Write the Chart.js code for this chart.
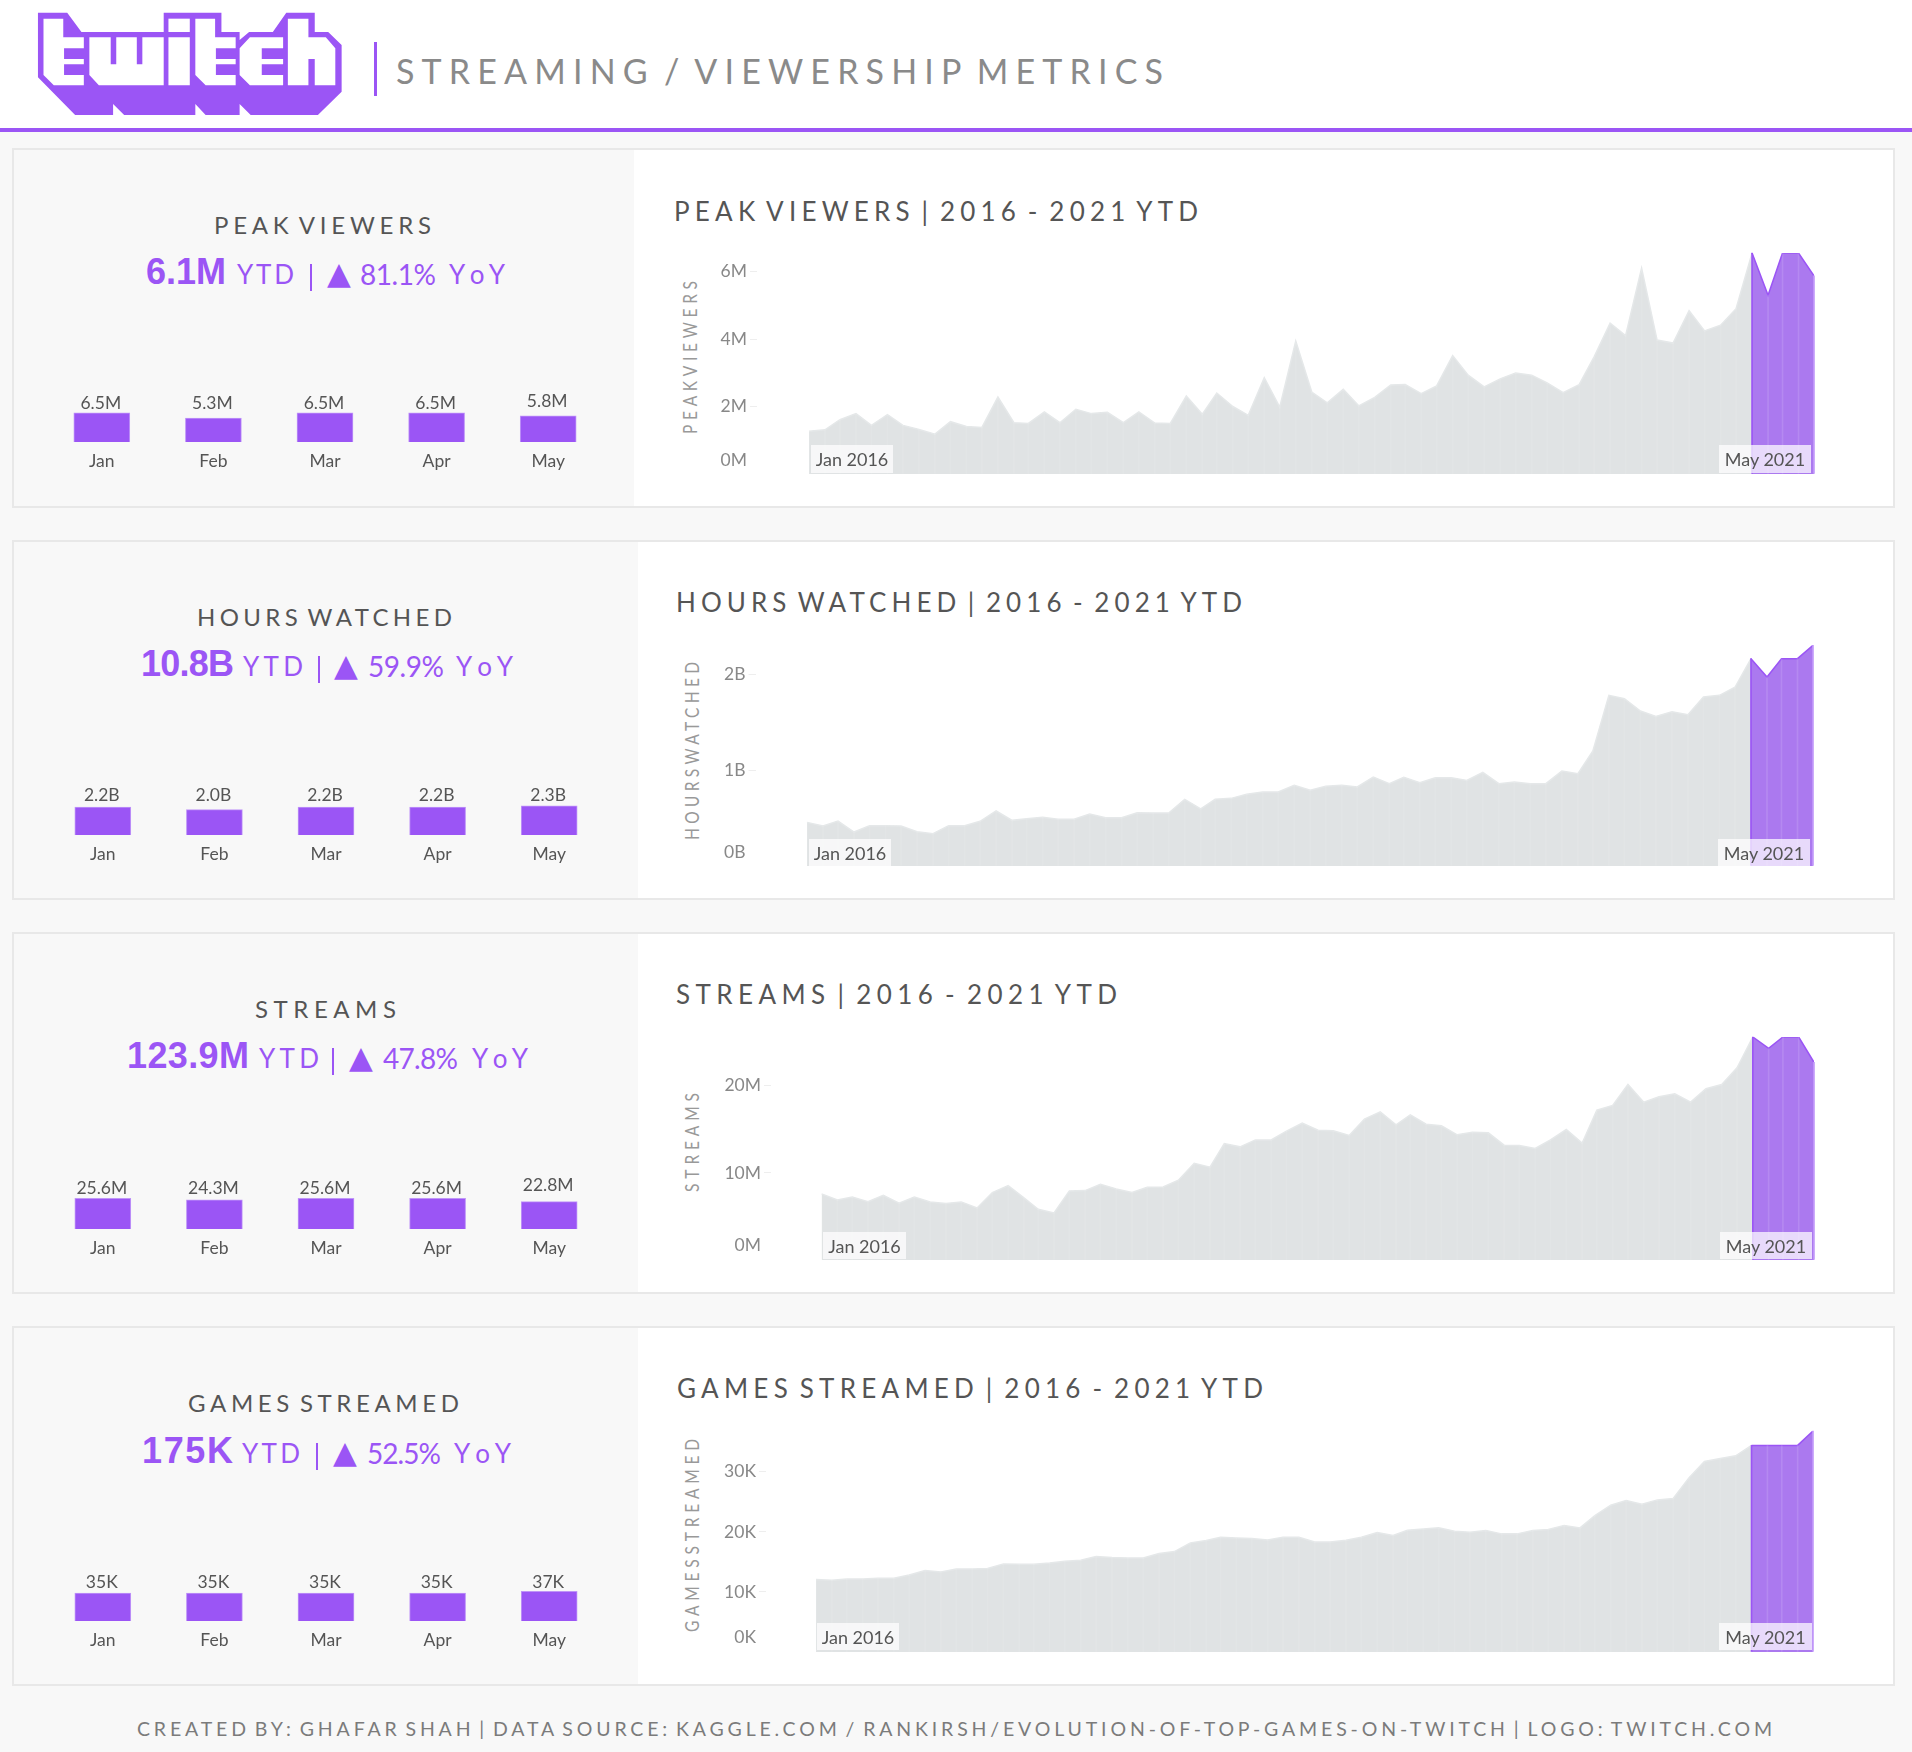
<!DOCTYPE html>
<html><head><meta charset="utf-8">
<script src="https://cdn.jsdelivr.net/npm/chart.js@4"></script>
<style>
html,body{margin:0;padding:0;background:#f8f8f8;}
#page{position:relative;width:1912px;height:1752px;overflow:hidden;background:#f8f8f8;font-family:Lato,sans-serif;}
.abs{position:absolute;}
.t{position:absolute;white-space:pre;line-height:1;}
canvas{position:absolute;display:block;}
</style></head><body><div id="page"></div>
<script>
// ---------- categories ----------
const timeline = ['2016-01','2016-02','2016-03','2016-04','2016-05','2016-06','2016-07','2016-08','2016-09','2016-10','2016-11','2016-12',
'2017-01','2017-02','2017-03','2017-04','2017-05','2017-06','2017-07','2017-08','2017-09','2017-10','2017-11','2017-12',
'2018-01','2018-02','2018-03','2018-04','2018-05','2018-06','2018-07','2018-08','2018-09','2018-10','2018-11','2018-12',
'2019-01','2019-02','2019-03','2019-04','2019-05','2019-06','2019-07','2019-08','2019-09','2019-10','2019-11','2019-12',
'2020-01','2020-02','2020-03','2020-04','2020-05','2020-06','2020-07','2020-08','2020-09','2020-10','2020-11','2020-12',
'2021-01','2021-02','2021-03','2021-04','2021-05'];
const ytdMonths = ['Jan','Feb','Mar','Apr','May'];
// ---------- monthly series ----------
const peakViewers = [1.27,1.31,1.61,1.79,1.44,1.76,1.44,1.32,1.18,1.55,1.41,1.38,2.28,1.52,1.50,1.84,1.52,1.92,1.79,1.83,1.52,1.84,1.51,1.50,2.31,1.77,2.40,2.00,1.74,2.85,1.98,3.94,2.43,2.11,2.51,2.02,2.27,2.64,2.65,2.38,2.61,3.51,2.93,2.58,2.82,2.99,2.93,2.70,2.41,2.65,3.47,4.47,4.10,6.10,3.97,3.88,4.84,4.24,4.41,4.90,6.55,5.30,6.55,6.55,5.87];
const hoursWatched = [.456,.418,.470,.355,.422,.422,.418,.359,.338,.422,.422,.467,.575,.477,.495,.509,.488,.488,.544,.505,.505,.557,.554,.554,.697,.596,.697,.707,.749,.773,.773,.843,.791,.833,.843,.826,.930,.861,.927,.871,.923,.923,.895,.979,.861,.878,.861,.861,.993,.965,1.202,1.784,1.749,1.620,1.564,1.613,1.582,1.767,1.784,1.868,2.167,1.976,2.167,2.167,2.307];
const streams = [7.59,6.90,7.24,6.70,7.43,6.51,7.24,6.67,6.48,6.67,5.98,7.74,8.54,7.13,5.82,5.40,7.93,7.97,8.70,8.16,7.74,8.35,8.39,9.16,11.11,10.65,13.37,12.99,13.79,13.79,14.79,15.71,14.90,14.83,14.29,16.17,17.01,15.52,16.67,15.59,15.40,14.37,14.67,14.60,13.18,13.14,12.80,13.79,14.98,13.41,17.20,17.74,20.15,18.12,18.74,19.08,18.12,19.66,20.15,22.07,25.6,24.3,25.6,25.6,22.7];
const gamesStreamed = [12.06,11.94,12.17,12.17,12.28,12.28,12.83,13.56,13.33,13.83,13.83,13.89,14.67,14.61,14.61,14.83,15.11,15.28,15.89,15.72,15.67,15.67,16.39,16.72,18.17,18.56,19.11,19.0,18.89,18.67,19.11,19.11,18.33,18.33,18.61,19.11,19.89,19.39,20.28,20.5,20.67,20.11,19.94,20.22,19.67,19.67,20.22,20.39,21.06,20.67,22.72,24.44,25.22,24.61,25.33,25.56,29.0,31.72,32.22,32.67,34.4,34.4,34.4,34.4,36.8];
// ---------- 2021 month bars ----------
const peakYtd = [6.5,5.3,6.5,6.5,5.8];
const hoursYtd = [2.2,2.0,2.2,2.2,2.3];
const streamsYtd = [25.6,24.3,25.6,25.6,22.8];
const gamesYtd = [35,35,35,35,37];
// ---------- axis ticks ----------
const peakTicks = [0,2,4,6];
const hoursTicks = [0,1,2];
const streamsTicks = [0,10,20];
const gamesTicks = [0,10,20,30];
// ---------- text ----------
const headerTitle = 'STREAMING / VIEWERSHIP METRICS';
const footerText = 'CREATED BY: GHAFAR SHAH | DATA SOURCE: KAGGLE.COM / RANKIRSH/EVOLUTION-OF-TOP-GAMES-ON-TWITCH | LOGO: TWITCH.COM';

const PURPLE='#9b55f5', AREA_PURPLE='#ab79ef', GRAY='#e0e3e4', GRAY_LINE='#e5e8e9';
const page=document.getElementById('page');
Chart.defaults.font.family='Lato';

function box(x0,y0,x1,y1,css){const d=document.createElement('div');d.className='abs';d.style.cssText+=`left:${x0}px;top:${y0}px;width:${x1-x0}px;height:${y1-y0}px;${css||''}`;page.appendChild(d);return d;}
// text spread by letter spacing so it runs from x0 to x1, caps centred on cy
function text(s,x0,x1,cy,size,color,css){
  const e=document.createElement('div');e.className='t';e.textContent=s;
  e.style.cssText+=`left:${x0}px;top:${cy}px;font-size:${size}px;color:${color};transform:translateY(-52%);${css||''}`;
  page.appendChild(e);
  const w=e.getBoundingClientRect().width;
  e.style.letterSpacing=((x1-x0-w)/(Math.max(s.length-1,1)))+'px';
  return e;
}
function vtext(s,cx,y0,y1,size,color,stretch){
  const e=document.createElement('div');e.className='t';e.textContent=s;
  e.style.cssText+=`left:${cx}px;top:${y1}px;font-size:${size}px;color:${color};`;
  page.appendChild(e);
  const w=e.getBoundingClientRect().width;
  e.style.letterSpacing=((y1-y0-w)/(s.length-1))+'px';
  e.style.transformOrigin='0 0';e.style.transform=`rotate(-90deg) scaleY(${stretch}) translateY(-50%)`;
  return e;
}
const TIGHT='word-spacing:-.2em;';

// ---------- header ----------
box(0,0,1912,128,'background:#fff');
box(0,128,1912,132,`background:${PURPLE}`);
box(374,42,377,96,`background:${PURPLE}`);
const logo=document.createElementNS('http://www.w3.org/2000/svg','svg');
logo.setAttribute('viewBox','0 0 1568 420');logo.setAttribute('preserveAspectRatio','none');
logo.style.cssText='position:absolute;left:0;top:0;width:1240px;height:140px';
const poly=(pts,fill)=>`<polygon fill="${fill}" points="${pts}"/>`;
logo.innerHTML=
 poly('48,38 85,38 103,96 207,96 207,38 280,38 280,96 303,96 303,120 315,96 345,96 362,38 398,38 398,96 415,96 432,135 432,275 402,345 317,345 303,312 303,345 260,345 247,312 247,345 157,345 143,312 143,345 95,345 48,232',PURPLE)+
 poly('55,56 80,56 80,112 106,112 106,145 81,145 81,177 106,177 106,193 81,193 81,225 106,225 106,256 68,256 55,225','#fff')+
 poly('113,112 140,112 140,193 147,193 147,112 173,112 173,193 180,193 180,112 207,112 207,256 125,256 113,225','#fff')+
 poly('213,56 240,56 240,96 213,96','#fff')+poly('213,112 240,112 240,256 213,256','#fff')+
 poly('247,56 272,56 272,112 298,112 298,145 273,145 273,177 298,177 298,193 273,193 273,225 298,225 298,256 260,256 247,225','#fff')+
 poly('316,112 358,112 358,145 331,145 331,177 358,177 358,193 331,193 331,225 358,225 358,256 316,256 303,225 303,145','#fff')+
 poly('364,56 390,56 390,112 412,112 424,145 424,256 398,256 398,177 390,177 390,256 364,256','#fff');
page.appendChild(logo);
text(headerTitle,396,1163,71.5,34,'#8a8a8a',TIGHT);
text(footerText,137,1772,1729,19.5,'#7b7b7b',TIGHT);

// ---------- panels ----------
const panels=[
 {name:'PEAK VIEWERS',axisName:'PEAKVIEWERS',series:peakViewers,ytd:peakYtd,ticks:peakTicks,unit:'M',digits:1,yMax:6.55,
  rect:[148,508,634],titleX:[214,431],titleY:225,kpiY:274.5,
  kpi:{v:'6.1M',vx:[146,226],ytd:[237,294],bar:310,tri:[327,349],pct:'81.1%',px:[360,436],yoy:[449,505]},
  chartTitleX:[674,1198],chartTitleY:211.5,axisX:690,axisY:[281,434],
  plot:{top:253,bottom:474,start:809,right:1814,tick:757,lift:14},
  jan:[811,893],may:[1719,1811],boxY:[445,473],
  bars:{left:45.5,width:558,base:442,px:4.5,labelDrop:40,mayLift:2.5}},
 {name:'HOURS WATCHED',axisName:'HOURSWATCHED',series:hoursWatched,ytd:hoursYtd,ticks:hoursTicks,unit:'B',digits:1,yMax:2.31,
  rect:[540,900,638],titleX:[197,452],titleY:617,kpiY:667,
  kpi:{v:'10.8B',vx:[141,234],ytd:[243,303],bar:318,tri:[334,357],pct:'59.9%',px:[368,444],yoy:[456,513]},
  chartTitleX:[676,1242],chartTitleY:603,axisX:692,axisY:[662,840],
  plot:{top:645,bottom:866,start:807,right:1813,tick:755.5,lift:14},
  jan:[809,891],may:[1718,1810],boxY:[839,866],
  bars:{left:46.5,width:558,base:835,px:12.7,labelDrop:41,mayLift:0}},
 {name:'STREAMS',axisName:'STREAMS',series:streams,ytd:streamsYtd,ticks:streamsTicks,unit:'M',digits:1,yMax:25.6,
  rect:[932,1294,638],titleX:[255,396],titleY:1009,kpiY:1059,
  kpi:{v:'123.9M',vx:[127,249],ytd:[259,319],bar:332,tri:[349,371],pct:'47.8%',px:[383,458],yoy:[472,528]},
  chartTitleX:[676,1117],chartTitleY:995,axisX:692,axisY:[1093,1192],
  plot:{top:1037,bottom:1260,start:821.6,right:1814,tick:771,lift:15},
  jan:[823,906],may:[1720,1812],boxY:[1232,1259],
  bars:{left:46.5,width:558,base:1229,px:1.2,labelDrop:42.5,mayLift:2.5}},
 {name:'GAMES STREAMED',axisName:'GAMESSTREAMED',series:gamesStreamed,ytd:gamesYtd,ticks:gamesTicks,unit:'K',digits:0,yMax:36.8,
  rect:[1326,1686,638],titleX:[188,459],titleY:1403,kpiY:1454,
  kpi:{v:'175K',vx:[142,233],ytd:[242,300],bar:316,tri:[333,355],pct:'52.5%',px:[367,441],yoy:[454,511]},
  chartTitleX:[677,1263],chartTitleY:1389,axisX:692,axisY:[1439,1632],
  plot:{top:1431,bottom:1652,start:816,right:1813,tick:766,lift:15},
  jan:[817,899],may:[1719,1812],boxY:[1623,1650],
  bars:{left:46.6,width:558,base:1621,px:0.8,labelDrop:40.5,mayLift:0}}
];
const xTime=timeline.map(s=>{const [y,m]=s.split('-').map(Number);return Date.UTC(y,m-1,1);});
const label=(s)=>{const [y,m]=s.split('-').map(Number);return ['Jan','Feb','Mar','Apr','May','Jun','Jul','Aug','Sep','Oct','Nov','Dec'][m-1]+' '+y;};

panels.forEach(p=>{
  const [top,bottom,split]=p.rect;
  box(12,top,1895,bottom,'background:#fff;border:2px solid #e8e8e8;box-sizing:border-box');
  box(14,top+2,split,bottom-2,'background:#f8f8f8');
  text(p.name,p.titleX[0],p.titleX[1],p.titleY,24,'#555',TIGHT);
  const k=p.kpi,C=PURPLE;
  text(k.v,k.vx[0],k.vx[1],p.kpiY-2,36,C,"font-weight:700;font-family:'Liberation Sans'");
  text('YTD',k.ytd[0],k.ytd[1],p.kpiY,26,C);
  box(k.bar,p.kpiY-11,k.bar+2,p.kpiY+16,`background:${C}`);
  text('▲',k.tri[0],k.tri[1],p.kpiY-1,31,C,"font-family:'DejaVu Sans'");
  text(k.pct,k.px[0],k.px[1],p.kpiY,28,C);
  text('YoY',k.yoy[0],k.yoy[1],p.kpiY,26,C);
  text(p.name+' | 2016 - 2021 YTD',p.chartTitleX[0],p.chartTitleX[1],p.chartTitleY,26,'#555',TIGHT);
  vtext(p.axisName,p.axisX,p.axisY[0],p.axisY[1],15.5,'#999',1.25);

  // area chart
  const P=p.plot,L=700,pad=14;
  const c=document.createElement('canvas');
  const W=P.right-L+2,H=P.bottom-P.top+2*pad;
  c.width=Math.ceil(W);c.height=H;c.style.left=L+'px';c.style.top=(P.top-pad)+'px';
  page.appendChild(c);
  const span=xTime[64]-xTime[0];
  const xMin=xTime[0]-(P.start-P.tick)/(P.right-P.start)*span;
  const pts=p.series.map((v,i)=>({x:xTime[i],y:v}));
  new Chart(c,{
    data:{datasets:[
      {type:'line',label:p.name+' 2016-2020',data:pts.slice(0,61),borderColor:GRAY_LINE,backgroundColor:GRAY,borderWidth:1.5,pointRadius:0,fill:'origin',tension:0,order:3},
      {type:'line',label:p.name+' 2021 YTD',data:pts.slice(60),borderColor:PURPLE,backgroundColor:AREA_PURPLE,borderWidth:1.5,pointRadius:0,fill:'origin',tension:0,order:2},
      {type:'bar',label:'month seams',data:pts,barThickness:1,grouped:false,order:1,clip:3,
       backgroundColor:ctx=>ctx.dataIndex===60?PURPLE:ctx.dataIndex===64?'#c39bf9':ctx.dataIndex>60?'rgba(255,255,255,.12)':'rgba(255,255,255,.09)'}
    ]},
    options:{responsive:false,animation:false,events:[],
      layout:{padding:{top:pad,bottom:pad,left:0,right:W-(P.right-L)}},
      plugins:{legend:{display:false},tooltip:{enabled:false}},
      scales:{
        x:{type:'linear',display:false,min:xMin,max:xTime[64],offset:false,grid:{display:false}},
        y:{type:'linear',min:0,max:p.yMax,
          border:{display:false},
          grid:{drawOnChartArea:false,drawTicks:true,tickLength:7,tickColor:ctx=>ctx.tick&&ctx.tick.value===0?'rgba(0,0,0,0)':'#eeeeee'},
          afterBuildTicks:s=>{s.ticks=p.ticks.map(v=>({value:v}));},
          ticks:{autoSkip:false,padding:3,color:'#888',font:{size:17.5},callback:v=>v+p.unit},
          afterFit:s=>{
            s.width=P.tick-L;
            if(!s.__lifted){s.__lifted=true;const f=s._computeLabelItems;
              s._computeLabelItems=function(a){const it=f.call(this,a);it.forEach((t,i)=>{if(this.ticks[i].value===0)t.options.translation[1]-=P.lift;});return it;};}
          }}
      }}
  });
  // range labels
  [[label(timeline[0]),p.jan],[label(timeline[64]),p.may]].forEach(([s,xr])=>{
    const b=box(xr[0],p.boxY[0],xr[1],p.boxY[1],"background:rgba(255,255,255,.72);color:#555;font-size:18px;text-align:center;");
    b.style.lineHeight=(p.boxY[1]-p.boxY[0]+1)+'px';b.textContent=s;
  });

  // 2021 bars
  const B=p.bars,bc=document.createElement('canvas'),bh=100,areaH=58;
  bc.width=B.width;bc.height=bh;bc.style.left=B.left+'px';bc.style.top=(B.base-areaH)+'px';page.appendChild(bc);
  new Chart(bc,{type:'bar',
    data:{labels:ytdMonths,datasets:[{label:p.name+' 2021',data:p.ytd,backgroundColor:PURPLE,borderColor:'#bf95f8',borderWidth:1,barThickness:56}]},
    options:{responsive:false,animation:false,events:[],
      layout:{padding:0},
      plugins:{legend:{display:false},tooltip:{enabled:false}},
      scales:{
        x:{border:{display:false},grid:{display:false,drawTicks:false},ticks:{color:'#555',font:{size:17.5},padding:9},afterFit:s=>{s.height=bh-areaH;}},
        y:{display:false,min:0,max:areaH/B.px}
      }},
    plugins:[{id:'barValues',afterDatasetsDraw(ch){
      const ctx=ch.ctx,m=ch.getDatasetMeta(0),yb=ch.scales.y.getPixelForValue(0);ctx.save();ctx.fillStyle='#555';ctx.font='17.5px Lato';ctx.textAlign='center';ctx.textBaseline='middle';
      m.data.forEach((el,i)=>ctx.fillText(p.ytd[i].toFixed(p.digits)+p.unit,el.x-1,yb-B.labelDrop+1.5-(i===4?B.mayLift:0)));ctx.restore();
    }}]
  });
});
</script></body></html>
